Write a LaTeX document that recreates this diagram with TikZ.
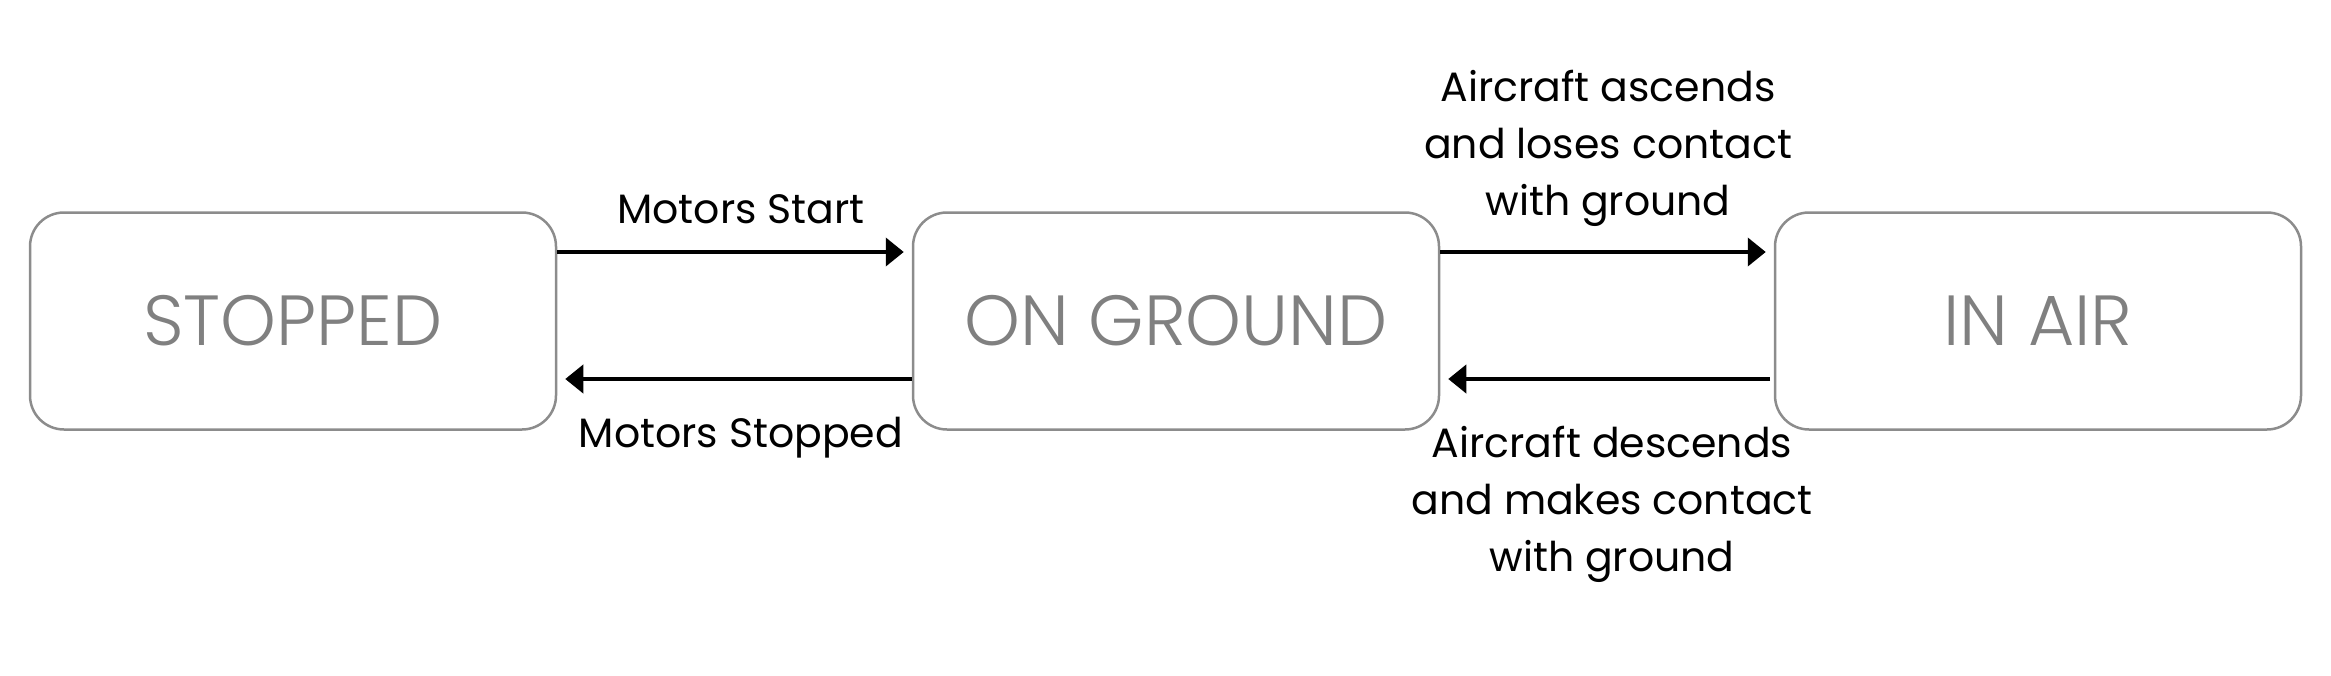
\documentclass[tikz,border=0pt]{standalone}
\usepackage{fontspec}
\setmainfont{Poppins}
\newfontfamily\boxfont{Poppins Light}
\usetikzlibrary{arrows.meta}
\definecolor{boxline}{HTML}{8C8C8C}
\definecolor{boxtext}{HTML}{808080}
\begin{document}
\begin{tikzpicture}[x=1pt,y=-1pt,
  state/.style={draw=boxline, line width=2.5pt, rounded corners=34pt,
    minimum width=526pt, minimum height=217pt, inner sep=0pt,
    text=boxtext, font=\boxfont\fontsize{71}{75}\selectfont},
  arr/.style={line width=4pt, -{Triangle[length=18pt,width=28pt]}, shorten >=8pt},
  lbl/.style={inner sep=0pt, anchor=base, align=center,
    font=\fontsize{41}{57}\selectfont}]
\useasboundingbox (0,0) rectangle (2331,675);
\node[state] (s) at (293,321) {STOPPED};
\node[state] (g) at (1176,321) {ON GROUND};
\node[state] (a) at (2038,321) {IN AIR};
\coordinate (hi) at (0,252);
\coordinate (lo) at (0,379);
\draw[arr] (s.east |- hi) -- (g.west |- hi);
\draw[arr] (g.west |- lo) -- (s.east |- lo);
\draw[arr] (g.east |- hi) -- (a.west |- hi);
\draw[arr, shorten <=3.6pt] (a.west |- lo) -- (g.east |- lo);
\node[lbl] (l1) at (741,223) {Motors Start};
\node[lbl] (l2) at (741,447) {Motors Stopped};
\node[lbl] (l3) at (1608,215) {Aircraft ascends\\and loses contact\\with ground};
\node[lbl] (l4) at (1612,571) {Aircraft descends\\and makes contact\\with ground};
\end{tikzpicture}
\end{document}
